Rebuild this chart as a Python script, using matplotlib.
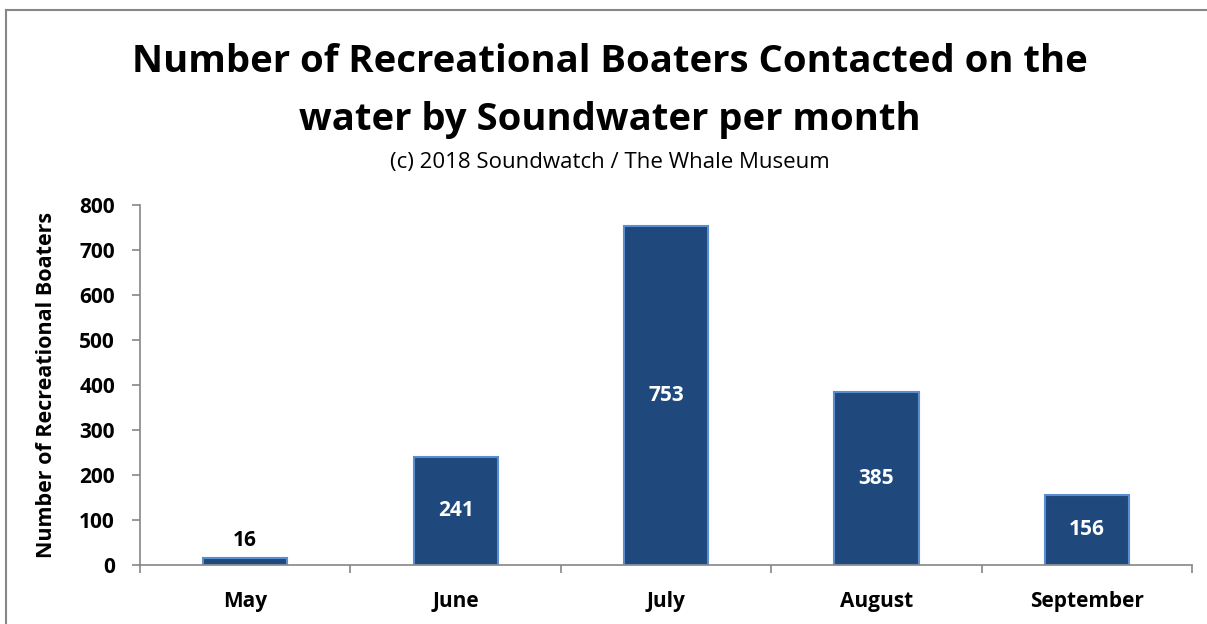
import matplotlib

matplotlib.use("Agg")

import matplotlib.pyplot as plt  # noqa: E402
from matplotlib.lines import Line2D  # noqa: E402

months = ["May", "June", "July", "August", "September"]
boaters = [16, 241, 753, 385, 156]
y_ticks = [0, 100, 200, 300, 400, 500, 600, 700, 800]

BAR = "#1f497d"
EDGE = "#5b8ed0"
AXIS = "#868686"

plt.rcParams["font.family"] = ["Open Sans", "DejaVu Sans"]

fig = plt.figure(figsize=(12.07, 6.24), dpi=100)
ax = fig.add_axes([0.116, 0.0946, 0.8716, 0.577])

x = list(range(len(months)))
ax.bar(x, boaters, width=0.4, color=BAR, edgecolor=EDGE, linewidth=1.5, zorder=2)

for xi, v in zip(x, boaters):
    if v < 60:
        ax.text(xi, v + 15, str(v), ha="center", va="bottom", fontsize=15, fontweight="bold", color="black")
    else:
        ax.text(xi, v / 2, str(v), ha="center", va="center", fontsize=15, fontweight="bold", color="white")

ax.set_xlim(-0.5, len(months) - 0.5)
ax.set_ylim(0, 800)
ax.set_yticks(y_ticks)
ax.set_yticklabels([str(t) for t in y_ticks], fontsize=15, fontweight="bold")
ax.set_xticks(x)
ax.set_xticklabels(months, fontsize=15, fontweight="bold")
ax.set_xticks([i + 0.5 for i in range(-1, len(months))], minor=True)
ax.tick_params(axis="x", which="major", length=0, pad=19)
ax.tick_params(axis="x", which="minor", length=6, color=AXIS, width=1.2)
ax.tick_params(axis="y", length=6, color=AXIS, width=1.2, pad=12)
ax.set_ylabel("Number of Recreational Boaters", fontsize=15.5, fontweight="bold", labelpad=16)

for side in ("top", "right"):
    ax.spines[side].set_visible(False)
for side in ("left", "bottom"):
    ax.spines[side].set_color(AXIS)
    ax.spines[side].set_linewidth(1.2)

fig.text(0.505, 0.90, "Number of Recreational Boaters Contacted on the", ha="center", va="center",
         fontsize=27.5, fontweight="bold")
fig.text(0.505, 0.807, "water by Soundwater per month", ha="center", va="center",
         fontsize=27.5, fontweight="bold")
fig.text(0.505, 0.74, "(c) 2018 Soundwatch / The Whale Museum", ha="center", va="center", fontsize=16)

# outer frame: only the left and top edges are visible in the original
fig.add_artist(Line2D([0.0046, 0.0046], [0.0, 0.984], transform=fig.transFigure, color=AXIS, linewidth=1.5))
fig.add_artist(Line2D([0.0046, 1.0], [0.984, 0.984], transform=fig.transFigure, color=AXIS, linewidth=1.5))

fig.savefig("out.png", dpi=100)
